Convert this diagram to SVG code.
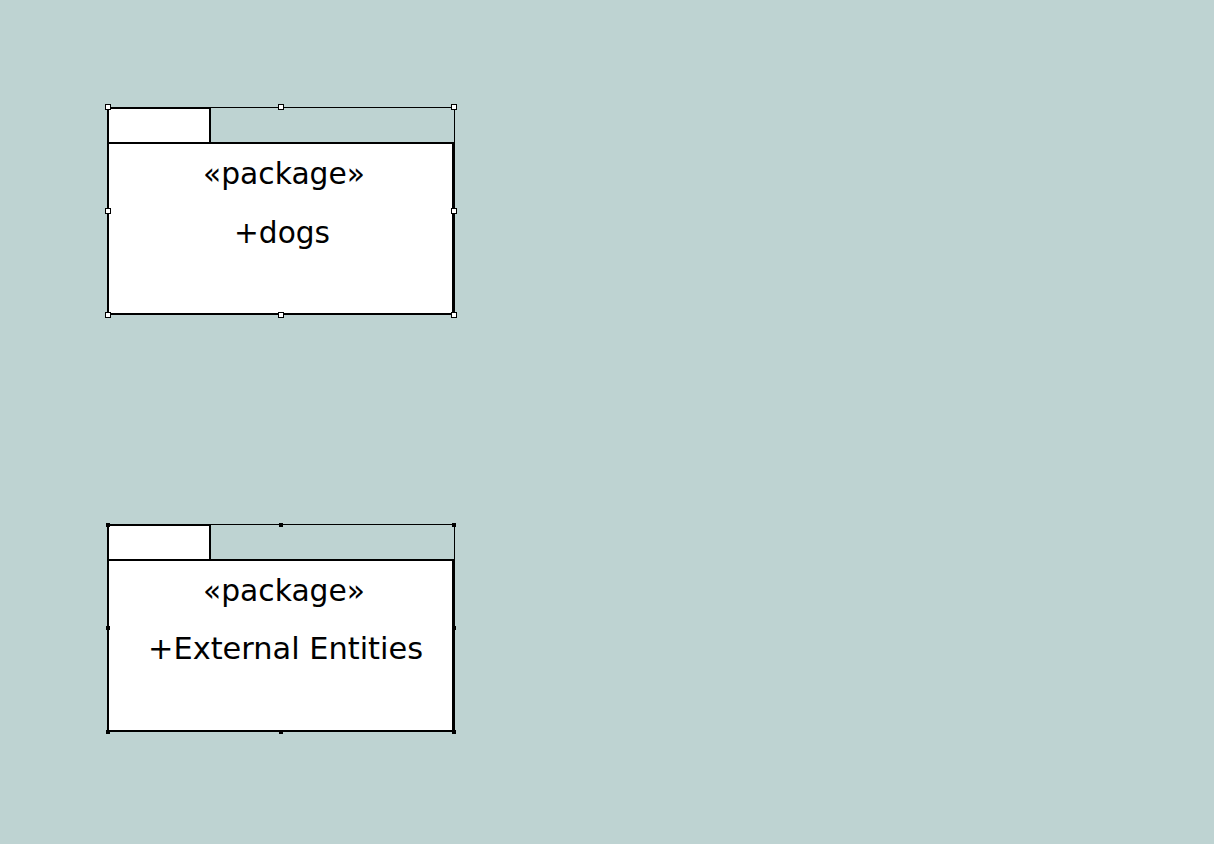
<svg xmlns="http://www.w3.org/2000/svg" width="1231" height="861" viewBox="0 0 1231 861">
  <style>
    .canvas { fill: #bed3d2; }
    .tab, .body { fill: #ffffff; stroke: #000000; stroke-width: 2; }
    .sel { fill: none; stroke: #000000; stroke-width: 1; }
    .hw { fill: #ffffff; stroke: #000000; stroke-width: 1; }
    .hb { fill: #000000; stroke: none; }
    .lbl { font-family: Tahoma, "DejaVu Sans", Verdana, sans-serif; font-size: 30px; fill: #000000; text-anchor: middle; }
  </style>

  <rect x="0" y="0" width="1231" height="861" fill="#ffffff"/>
  <rect class="canvas" x="0" y="0" width="1214" height="844"/>

  <!-- package: dogs -->
  <g id="pkg-dogs">
    <polyline class="sel" points="108,107.5 454.5,107.5 454.5,314"/>
    <rect class="tab" x="108" y="108" width="102" height="35"/>
    <rect class="body" x="108" y="143" width="345" height="171"/>
    <text class="lbl" x="284" y="184" textLength="162" lengthAdjust="spacingAndGlyphs">«package»</text>
    <text class="lbl" x="282" y="243" textLength="96" lengthAdjust="spacingAndGlyphs">+dogs</text>
    <g id="pkg-dogs-handles">
      <rect class="hw" x="105.5" y="104.5" width="5" height="5"/>
      <rect class="hw" x="278.5" y="104.5" width="5" height="5"/>
      <rect class="hw" x="451.5" y="104.5" width="5" height="5"/>
      <rect class="hw" x="105.5" y="208.5" width="5" height="5"/>
      <rect class="hw" x="451.5" y="208.5" width="5" height="5"/>
      <rect class="hw" x="105.5" y="312.5" width="5" height="5"/>
      <rect class="hw" x="278.5" y="312.5" width="5" height="5"/>
      <rect class="hw" x="451.5" y="312.5" width="5" height="5"/>
    </g>
  </g>

  <!-- package: External Entities -->
  <g id="pkg-external">
    <polyline class="sel" points="108,524.5 454.5,524.5 454.5,731"/>
    <rect class="tab" x="108" y="525" width="102" height="35"/>
    <rect class="body" x="108" y="560" width="345" height="171"/>
    <text class="lbl" x="284" y="601" textLength="162" lengthAdjust="spacingAndGlyphs">«package»</text>
    <text class="lbl" x="285.5" y="659" textLength="275" lengthAdjust="spacingAndGlyphs">+External Entities</text>
    <g id="pkg-external-handles">
      <rect class="hb" x="106" y="523" width="4" height="4"/>
      <rect class="hb" x="279" y="523" width="4" height="4"/>
      <rect class="hb" x="452" y="523" width="4" height="4"/>
      <rect class="hb" x="106" y="626" width="4" height="4"/>
      <rect class="hb" x="452" y="626" width="4" height="4"/>
      <rect class="hb" x="106" y="730" width="4" height="4"/>
      <rect class="hb" x="279" y="730" width="4" height="4"/>
      <rect class="hb" x="452" y="730" width="4" height="4"/>
    </g>
  </g>

  <!-- no connectors between the packages -->
  <g id="connectors"/>
</svg>
